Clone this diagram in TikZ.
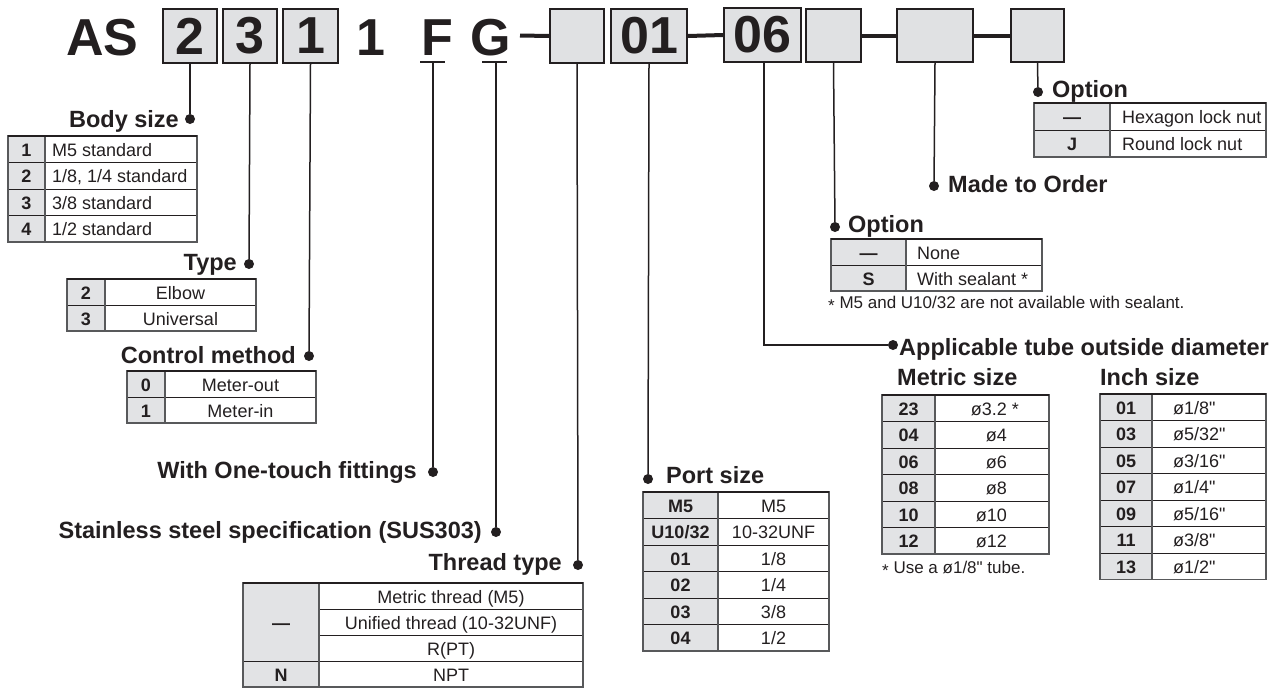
\documentclass[tikz,border=0pt]{standalone}
\usepackage{fontspec}
\setmainfont{Liberation Sans}[Ligatures=TeXOff]
\definecolor{ink}{HTML}{231F20}
\definecolor{boxfill}{HTML}{E0E1E3}
\definecolor{codefill}{HTML}{E2E3E5}
\definecolor{framec}{HTML}{58595B}
\newcommand\lblfont{\fontsize{23.5}{27}\selectfont\bfseries}
\newcommand\hdfont{\fontsize{52}{60}\selectfont\bfseries}
\newcommand\cdfont{\fontsize{18}{21}\selectfont\bfseries}
\newcommand\vlfont{\fontsize{18}{21}\selectfont}
\newcommand\ftfont{\fontsize{17}{20}\selectfont}
\newcommand\fnstar{\raisebox{-3pt}{*}}
\newcommand\spectable[6]{%
  \pgfmathsetmacro\tbot{#4+#5*#6}%
  \pgfmathtruncatemacro\tlast{#6-1}%
  \fill[codefill] (#1,#4) rectangle (#2,\tbot);
  \foreach \k in {1,...,\tlast}{\draw[rowsep] (#1,{#4+#5*\k}) -- (#3,{#4+#5*\k});}
  \draw[tframe] (#1,#4) rectangle (#3,\tbot);
  \draw[tframe] (#2,#4) -- (#2,\tbot);
  \draw[ttop] (#1,#4) -- (#3,#4);
}
\tikzset{
  rowsep/.style={draw=ink, line width=1pt},
  tframe/.style={draw=framec, line width=1.2pt},
  ttop/.style={draw=ink, line width=2.2pt},
  hbox/.style={draw=ink, fill=boxfill, line width=1.8pt, inner sep=0pt, font=\hdfont, text=ink},
  hd/.style={font=\hdfont, anchor=base, inner sep=0pt, text=ink},
  lbl/.style={font=\lblfont, inner sep=0pt, text=ink},
  cd/.style={font=\cdfont, anchor=base, inner sep=0pt, text=ink},
  vl/.style={font=\vlfont, anchor=base, inner sep=0pt, text=ink},
  vlw/.style={vl, anchor=base west},
  vle/.style={vl, anchor=base east},
  ft/.style={font=\ftfont, anchor=base west, inner sep=0pt, text=ink},
  lead/.style={draw=ink, line width=1.5pt},
  bar/.style={draw=ink, line width=4pt},
  ubar/.style={draw=ink, line width=2.5pt},
  dotc/.style={circle, fill=ink, inner sep=0pt, minimum size=10pt},
}
\begin{document}
\begin{tikzpicture}[x=1pt,y=-1pt]
\useasboundingbox (0,0) rectangle (1284,689);

% ---------- header ----------
\node[hd, anchor=base west] (as) at (66,55) {AS};
\node[hbox, minimum width=54pt, minimum height=54pt] (b1) at (190,36) {2};
\node[hbox, minimum width=54pt, minimum height=54pt] (b2) at (250,36) {3};
\node[hbox, minimum width=55pt, minimum height=54pt] (b3) at (310.5,36) {1};
\node[hd] (one) at (371,55) {1};
\node[hd] (fch) at (437,55) {F};
\node[hd] (gch) at (490.5,55) {G};
\draw[ubar] (420,62) -- (445,62);
\draw[ubar] (482,62) -- (507,62);
\coordinate (uf) at (433,62);
\coordinate (ug) at (496,62);
\coordinate (dg) at (520,35.5);
\node[hbox, minimum width=54pt, minimum height=54pt] (b4) at (577,36) {};
\node[hbox, minimum width=76pt, minimum height=54pt] (b5) at (649,36) {01};
\node[hbox, minimum width=77pt, minimum height=54pt] (b6) at (762.5,35) {06};
\node[hbox, minimum width=55pt, minimum height=53pt] (b7) at (833.5,35.5) {};
\node[hbox, minimum width=76pt, minimum height=53pt] (b8) at (935,35.5) {};
\node[hbox, minimum width=53pt, minimum height=53pt] (b9) at (1037.5,35.5) {};
\draw[bar] (dg) -- (b4.west);
\draw[bar] (b5.east) -- (b6.west);
\draw[bar] (b7.east) -- (b8.west);
\draw[bar] (b8.east) -- (b9.west);

% ---------- dots and labels ----------
\node[dotc] (d1) at (190,119) {};
\node[lbl, anchor=base east] (l1) at (179,127) {Body size};
\node[dotc] (d2) at (249,264) {};
\node[lbl, anchor=base east] (l2) at (237,270) {Type};
\node[dotc] (d3) at (309,356) {};
\node[lbl, anchor=base east] (l3) at (296,363) {Control method};
\node[dotc] (d4) at (433,472) {};
\node[lbl, anchor=base east] (l4) at (417,478) {With One-touch fittings};
\node[dotc] (d5) at (496,532) {};
\node[lbl, anchor=base east] (l5) at (482,538) {Stainless steel specification (SUS303)};
\node[dotc] (d6) at (578,565) {};
\node[lbl, anchor=base east] (l6) at (562,570) {Thread type};
\node[dotc] (d7) at (648,479) {};
\node[lbl, anchor=base west] (l7) at (666,483) {Port size};
\node[dotc] (d8) at (893,345) {};
\node[lbl, anchor=base west] (l8) at (899,355) {Applicable tube outside diameter};
\node[lbl, anchor=base west] (l8a) at (897,385) {Metric size};
\node[lbl, anchor=base west] (l8b) at (1100,385) {Inch size};
\node[dotc] (d9) at (835,227) {};
\node[lbl, anchor=base west] (l9) at (848,232) {Option};
\node[dotc] (d10) at (934,186) {};
\node[lbl, anchor=base west] (l10) at (948,192) {Made to Order};
\node[dotc] (d11) at (1038,92) {};
\node[lbl, anchor=base west] (l11) at (1052,97) {Option};

\draw[lead] (b1.south) -- (d1);
\draw[lead] (b2.south) -- (d2);
\draw[lead] (b3.south) -- (d3);
\draw[lead] (uf) -- (d4);
\draw[lead] (ug) -- (d5);
\draw[lead] (b4.south) -- (d6);
\draw[lead] (b5.south) -- (d7);
\draw[lead] ([xshift=1.5pt]b6.south) |- (d8);
\draw[lead] (b7.south) -- (d9);
\draw[lead] (b8.south) -- (d10);
\draw[lead] (b9.south) -- (d11);

% ---------- Body size table ----------
\spectable{8}{45}{197}{136}{26.5}{4}
\node[cd] (t1c1) at (26.5,156.25) {1};
\node[cd] (t1c2) at (26.5,182.75) {2};
\node[cd] (t1c3) at (26.5,209.25) {3};
\node[cd] (t1c4) at (26.5,235.75) {4};
\node[vlw] (t1v1) at (52,156.25) {M5 standard};
\node[vlw] (t1v2) at (52,182.75) {1/8, 1/4 standard};
\node[vlw] (t1v3) at (52,209.25) {3/8 standard};
\node[vlw] (t1v4) at (52,235.75) {1/2 standard};

% ---------- Type table ----------
\spectable{67}{105}{256}{279}{26}{2}
\node[cd] (t2c1) at (86,299) {2};
\node[cd] (t2c2) at (86,325) {3};
\node[vl] (t2v1) at (180.5,299) {Elbow};
\node[vl] (t2v2) at (180.5,325) {Universal};

% ---------- Control method table ----------
\spectable{127}{165}{316}{371}{26}{2}
\node[cd] (t3c1) at (146,391) {0};
\node[cd] (t3c2) at (146,417) {1};
\node[vl] (t3v1) at (240.5,391) {Meter-out};
\node[vl] (t3v2) at (240.5,417) {Meter-in};

% ---------- Thread type table ----------
\fill[codefill] (243,583) rectangle (319,687);
\draw[rowsep] (319,609) -- (583,609);
\draw[rowsep] (319,635) -- (583,635);
\draw[rowsep] (243,661) -- (583,661);
\draw[tframe] (243,583) rectangle (583,687);
\draw[tframe] (319,583) -- (319,687);
\draw[ttop] (243,583) -- (583,583);
\node[cd] (t4c1) at (281,629) {—};
\node[cd] (t4c2) at (281,681) {N};
\node[vl] (t4v1) at (451,603) {Metric thread (M5)};
\node[vl] (t4v2) at (451,629) {Unified thread (10-32UNF)};
\node[vl] (t4v3) at (451,655) {R(PT)};
\node[vl] (t4v4) at (451,681) {NPT};

% ---------- Port size table ----------
\spectable{643}{718}{829}{492}{26.5}{6}
\node[cd] (t5c1) at (680.5,512.25) {M5};
\node[cd] (t5c2) at (680.5,538.75) {U10/32};
\node[cd] (t5c3) at (680.5,565.25) {01};
\node[cd] (t5c4) at (680.5,591.75) {02};
\node[cd] (t5c5) at (680.5,618.25) {03};
\node[cd] (t5c6) at (680.5,644.75) {04};
\node[vl] (t5v1) at (773.5,512.25) {M5};
\node[vl] (t5v2) at (773.5,538.75) {10-32UNF};
\node[vl] (t5v3) at (773.5,565.25) {1/8};
\node[vl] (t5v4) at (773.5,591.75) {1/4};
\node[vl] (t5v5) at (773.5,618.25) {3/8};
\node[vl] (t5v6) at (773.5,644.75) {1/2};

% ---------- Option (lower) table ----------
\spectable{831}{906}{1042}{239}{26}{2}
\node[cd] (t6c1) at (868.5,259) {—};
\node[cd] (t6c2) at (868.5,285) {S};
\node[vlw] (t6v1) at (917,259) {None};
\node[vlw] (t6v2) at (917,285) {With sealant *};
\node[ft] (fn1) at (828,308) {\fnstar\ M5 and U10/32 are not available with sealant.};

% ---------- Option (upper) table ----------
\spectable{1034}{1110}{1266}{103}{27}{2}
\node[cd] (t7c1) at (1072,123.5) {—};
\node[cd] (t7c2) at (1072,150.5) {J};
\node[vlw] (t7v1) at (1122,123.5) {Hexagon lock nut};
\node[vlw] (t7v2) at (1122,150.5) {Round lock nut};

% ---------- Metric size table ----------
\spectable{882}{935}{1049}{395}{26.5}{6}
\node[cd] (t8c1) at (908.5,415.25) {23};
\node[cd] (t8c2) at (908.5,441.75) {04};
\node[cd] (t8c3) at (908.5,468.25) {06};
\node[cd] (t8c4) at (908.5,494.75) {08};
\node[cd] (t8c5) at (908.5,521.25) {10};
\node[cd] (t8c6) at (908.5,547.75) {12};
\node[vle] (t8v1) at (1007,415.25) {ø3.2\rlap{ *}};
\node[vle] (t8v2) at (1007,441.75) {ø4};
\node[vle] (t8v3) at (1007,468.25) {ø6};
\node[vle] (t8v4) at (1007,494.75) {ø8};
\node[vle] (t8v5) at (1007,521.25) {ø10};
\node[vle] (t8v6) at (1007,547.75) {ø12};
\node[ft] (fn2) at (882,573) {\fnstar\ Use a ø1/8" tube.};

% ---------- Inch size table ----------
\spectable{1100}{1152}{1266}{394}{26.5}{7}
\node[cd] (t9c1) at (1126,414.25) {01};
\node[cd] (t9c2) at (1126,440.75) {03};
\node[cd] (t9c3) at (1126,467.25) {05};
\node[cd] (t9c4) at (1126,493.75) {07};
\node[cd] (t9c5) at (1126,520.25) {09};
\node[cd] (t9c6) at (1126,546.75) {11};
\node[cd] (t9c7) at (1126,573.25) {13};
\node[vlw] (t9v1) at (1173,414.25) {ø1/8"};
\node[vlw] (t9v2) at (1173,440.75) {ø5/32"};
\node[vlw] (t9v3) at (1173,467.25) {ø3/16"};
\node[vlw] (t9v4) at (1173,493.75) {ø1/4"};
\node[vlw] (t9v5) at (1173,520.25) {ø5/16"};
\node[vlw] (t9v6) at (1173,546.75) {ø3/8"};
\node[vlw] (t9v7) at (1173,573.25) {ø1/2"};
\end{tikzpicture}
\end{document}
